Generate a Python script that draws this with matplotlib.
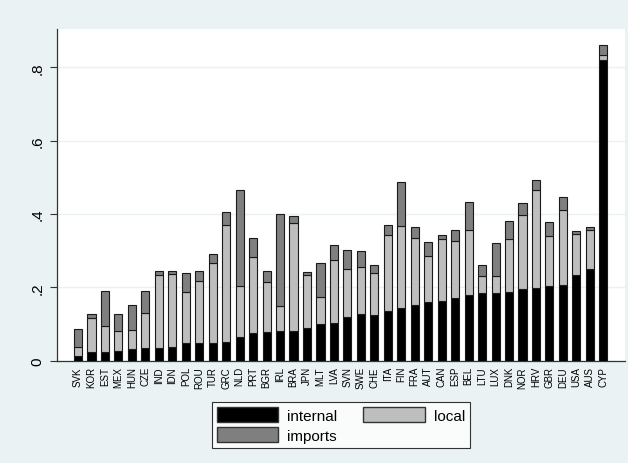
import numpy as np
import matplotlib
matplotlib.use("Agg")
import matplotlib.pyplot as plt
from matplotlib.patches import Patch

plt.rcParams['font.family'] = ['Liberation Sans', 'DejaVu Sans']

countries = ["SVK", "KOR", "EST", "MEX", "HUN", "CZE", "IND", "IDN", "POL", "ROU",
             "TUR", "GRC", "NLD", "PRT", "BGR", "IRL", "BRA", "JPN", "MLT", "LVA",
             "SVN", "SWE", "CHE", "ITA", "FIN", "FRA", "AUT", "CAN", "ESP", "BEL",
             "LTU", "LUX", "DNK", "NOR", "HRV", "GBR", "DEU", "USA", "AUS", "CYP"]

internal = [0.013, 0.022, 0.022, 0.025, 0.031, 0.034, 0.034, 0.038, 0.047, 0.047,
            0.048, 0.051, 0.063, 0.074, 0.079, 0.080, 0.081, 0.089, 0.100, 0.102,
            0.120, 0.127, 0.125, 0.135, 0.144, 0.152, 0.159, 0.161, 0.171, 0.180,
            0.184, 0.184, 0.186, 0.195, 0.199, 0.204, 0.207, 0.234, 0.251, 0.820]

local = [0.023, 0.093, 0.073, 0.056, 0.053, 0.096, 0.200, 0.198, 0.139, 0.169,
         0.218, 0.320, 0.141, 0.209, 0.134, 0.068, 0.294, 0.145, 0.074, 0.171,
         0.130, 0.127, 0.114, 0.207, 0.224, 0.182, 0.127, 0.171, 0.154, 0.177,
         0.047, 0.047, 0.146, 0.202, 0.266, 0.135, 0.205, 0.111, 0.105, 0.014]

imports = [0.050, 0.012, 0.095, 0.047, 0.068, 0.060, 0.011, 0.007, 0.053, 0.027,
           0.024, 0.035, 0.261, 0.050, 0.032, 0.252, 0.020, 0.008, 0.092, 0.042,
           0.051, 0.046, 0.021, 0.028, 0.120, 0.029, 0.036, 0.010, 0.032, 0.076,
           0.029, 0.089, 0.048, 0.033, 0.027, 0.038, 0.033, 0.009, 0.009, 0.027]

y_ticks = [0, 0.2, 0.4, 0.6, 0.8]
y_tick_labels = ["0", ".2", ".4", ".6", ".8"]

BG = "#EAF2F3"
C_INT = "#000000"
C_LOC = "#BEBEBE"
C_IMP = "#7F7F7F"

fig = plt.figure(figsize=(6.28, 4.64), dpi=100, facecolor=BG)
ax = fig.add_axes([57 / 628, 1 - 361.5 / 464, (625 - 57) / 628, (361.5 - 30) / 464])
ax.set_facecolor("white")

x = np.arange(len(countries))
internal_a = np.array(internal)
local_a = np.array(local)
imports_a = np.array(imports)

w = 0.6
edge = dict(edgecolor="#1a1a1a", linewidth=0.8)
ax.bar(x, internal_a, w, color=C_INT, zorder=3, **edge)
ax.bar(x, local_a, w, bottom=internal_a, color=C_LOC, zorder=3, **edge)
ax.bar(x, imports_a, w, bottom=internal_a + local_a, color=C_IMP, zorder=3, **edge)

ax.set_xlim(-1.56, len(countries) - 1 + 1.61)
ax.set_ylim(0, 0.9045)

ax.set_yticks(y_ticks)
ax.set_yticklabels(y_tick_labels, rotation=90, va="center", fontsize=11)
ax.tick_params(axis="y", length=5, width=0.8, color="#333333", pad=4)
ax.yaxis.grid(True, color=BG, linewidth=1.0, zorder=0)
ax.set_axisbelow(True)

ax.set_xticks(x)
ax.set_xticklabels(countries, rotation=90, fontsize=7)
ax.tick_params(axis="x", length=0, pad=4)

for s in ["top", "right"]:
    ax.spines[s].set_visible(False)
ax.spines["left"].set_color("#333333")
ax.spines["bottom"].set_color("#333333")
ax.spines["left"].set_linewidth(0.9)
ax.spines["bottom"].set_linewidth(0.9)

handles = [Patch(facecolor=C_INT, edgecolor="#333333", label="internal"),
           Patch(facecolor=C_IMP, edgecolor="#333333", label="imports"),
           Patch(facecolor=C_LOC, edgecolor="#333333", label="local")]
leg = fig.legend(handles=handles, ncol=2, loc="center",
                 bbox_to_anchor=(341 / 628, 1 - 426 / 464),
                 fontsize=11, frameon=True, fancybox=False,
                 handlelength=4.0, handleheight=1.1, handletextpad=0.6,
                 columnspacing=1.7, labelspacing=0.3, borderpad=0.35)
leg.get_frame().set_edgecolor("black")
leg.get_frame().set_linewidth(0.8)
leg.get_frame().set_facecolor("white")

fig.savefig("out.png", dpi=100, facecolor=BG)
